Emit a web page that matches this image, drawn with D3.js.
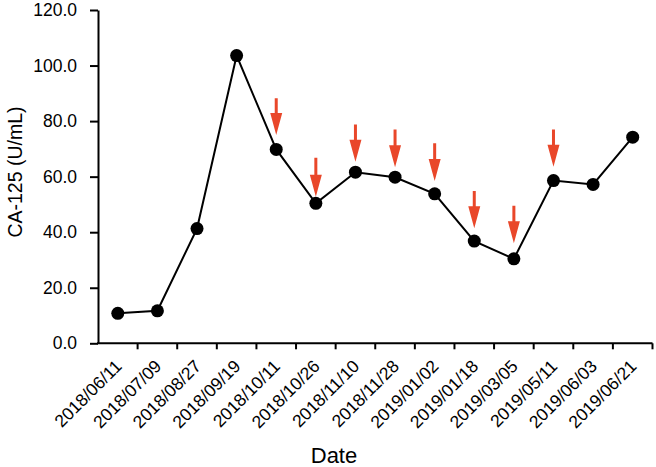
<!DOCTYPE html>
<html>
<head>
<meta charset="utf-8">
<script src="https://cdn.jsdelivr.net/npm/d3@7"></script>
<style>
  html, body { margin: 0; padding: 0; background: #fff; }
  svg { display: block; }
  text { font-family: Arial, "Liberation Sans", sans-serif; fill: #000; }
</style>
</head>
<body>
<svg id="chart" width="656" height="467"></svg>
<script>
// ---- data ----
const dates = ["2018/06/11","2018/07/09","2018/08/27","2018/09/19","2018/10/11","2018/10/26","2018/11/10","2018/11/28","2019/01/02","2019/01/18","2019/03/05","2019/05/11","2019/06/03","2019/06/21"];
const ca125 = [10.8, 11.7, 41.3, 103.6, 69.8, 50.4, 61.6, 59.8, 53.8, 36.8, 30.4, 58.6, 57.2, 74.2];
const arrowDates = ["2018/10/11","2018/10/26","2018/11/10","2018/11/28","2019/01/02","2019/01/18","2019/03/05","2019/05/11"];
const arrowFrom = [88.2, 66.8, 78.8, 77.0, 72.0, 54.8, 49.5, 77.0];
const arrowTo   = [75.0, 52.8, 65.4, 63.4, 58.4, 41.4, 36.0, 63.6];
const yTicks = [0, 20, 40, 60, 80, 100, 120];
const yTitle = "CA-125 (U/mL)";
const xTitle = "Date";

(function () {
// ---- layout ----
const svg = d3.select("#chart");
const mLeft = 98, mRight = 652.5, mTop = 10, mBottom = 343.3;

const x = d3.scaleBand().domain(dates).range([mLeft, mRight]);
const y = d3.scaleLinear().domain([0, 120]).range([mBottom, mTop]);
const xc = d => x(d) + x.bandwidth() / 2;

// y axis
const yAxis = svg.append("g")
  .attr("transform", `translate(${mLeft},0)`)
  .call(d3.axisLeft(y).tickValues(yTicks).tickFormat(d3.format(".1f")).tickSize(8).tickSizeOuter(0).tickPadding(13));
yAxis.selectAll("text").style("font-size", "17.5px").attr("font-family", "Arial, 'Liberation Sans', sans-serif");
yAxis.selectAll("line, path").attr("stroke", "#000").attr("stroke-width", 2);

// x axis (labels only, ticks at band edges)
const xAxis = svg.append("g")
  .attr("transform", `translate(0,${mBottom})`)
  .call(d3.axisBottom(x).tickSize(0).tickSizeOuter(0).tickPadding(0));
xAxis.select(".domain").attr("stroke", "#000").attr("stroke-width", 2)
  .attr("d", `M${mLeft - 1},0H${mRight}`);
xAxis.selectAll(".tick text")
  .style("font-size", "17.5px")
  .attr("font-family", "Arial, 'Liberation Sans', sans-serif")
  .attr("text-anchor", "end")
  .attr("dy", null)
  .attr("y", null)
  .attr("transform", "translate(5,24) rotate(-45)");

const edges = dates.map(d => x(d)).concat([mRight]).slice(1);
svg.append("g").selectAll("line").data(edges).join("line")
  .attr("x1", d => d).attr("x2", d => d)
  .attr("y1", mBottom).attr("y2", mBottom + 6)
  .attr("stroke", "#000").attr("stroke-width", 2);

// line
const pts = dates.map((d, i) => ({ d, v: ca125[i] }));
svg.append("path").datum(pts)
  .attr("fill", "none").attr("stroke", "#000").attr("stroke-width", 2)
  .attr("d", d3.line().x(p => xc(p.d)).y(p => y(p.v)));

svg.append("g").selectAll("circle").data(pts).join("circle")
  .attr("cx", p => xc(p.d)).attr("cy", p => y(p.v)).attr("r", 6.5)
  .attr("fill", "#000");

// arrows
const arrowColor = "#E9472A";
const arrows = arrowDates.map((d, i) => ({ d, from: arrowFrom[i], to: arrowTo[i] }));
const headLen = 22, headHalf = 6, shaftHalf = 1.5;
svg.append("g").selectAll("path").data(arrows).join("path")
  .attr("fill", arrowColor)
  .attr("d", a => {
    const cx = xc(a.d), y0 = y(a.from), y1 = y(a.to), yh = y1 - headLen;
    return `M${cx - shaftHalf},${y0}H${cx + shaftHalf}V${yh}H${cx + headHalf}L${cx},${y1}L${cx - headHalf},${yh}H${cx - shaftHalf}Z`;
  });

// titles
svg.append("text")
  .attr("transform", `translate(21.5,172) rotate(-90)`)
  .attr("text-anchor", "middle")
  .style("font-size", "19.5px")
  .text(yTitle);

svg.append("text")
  .attr("x", 334).attr("y", 463)
  .attr("text-anchor", "middle")
  .style("font-size", "22px")
  .text(xTitle);
})();
</script>
</body>
</html>
